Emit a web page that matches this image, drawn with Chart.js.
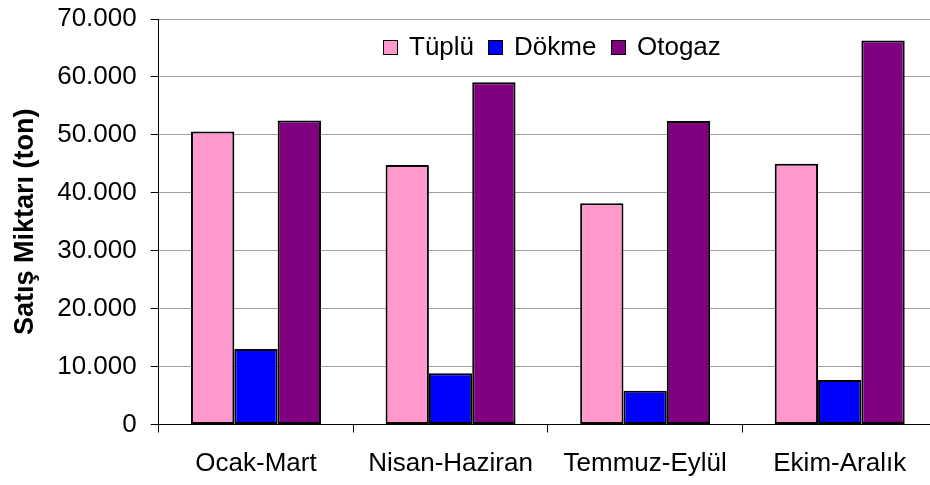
<!DOCTYPE html>
<html>
<head>
<meta charset="utf-8">
<script src="https://cdn.jsdelivr.net/npm/chart.js@4.4.1/dist/chart.umd.min.js"></script>
<style>
  html, body { margin: 0; padding: 0; background: #fff; overflow: hidden; width: 930px; height: 485px; }
  #wrap { position: relative; width: 940px; height: 485px; }
  #c { position: absolute; left: 0; top: 0; }
  .lbox { position: absolute; width: 13px; height: 13px; border: 1.5px solid #000; top: 39.5px; }
  .ltxt { position: absolute; top: 33px; font-family: "Liberation Sans", Arial, sans-serif; font-size: 26px; line-height: 26px; color: #000; white-space: nowrap; }
</style>
</head>
<body>
<div id="wrap">
  <canvas id="c" width="940" height="485"></canvas>
  <div id="legend"></div>
</div>
<script>
const categories = ["Ocak-Mart", "Nisan-Haziran", "Temmuz-Eylül", "Ekim-Aralık"];
const seriesNames = ["Tüplü", "Dökme", "Otogaz"];
const tupluValues = [50600, 44800, 38200, 45000];
const dokmeValues = [13050, 8830, 5830, 7670];
const otogazValues = [52500, 59100, 52400, 66300];
const seriesColors = ["#FF99CC", "#0000FF", "#800080"];
const yMin = 0, yMax = 70000, yStep = 10000;
const yTitle = "Satış Miktarı (ton)";

function fmt(v) {
  return String(Math.round(v)).replace(/\B(?=(\d{3})+(?!\d))/g, ".");
}

const seriesValues = [tupluValues, dokmeValues, otogazValues];
const datasets = seriesNames.map((n, i) => ({
  label: n,
  data: seriesValues[i],
  backgroundColor: seriesColors[i],
  borderColor: "#000",
  borderWidth: 2,
  borderSkipped: false,
  categoryPercentage: 0.668,
  barPercentage: 1.0
}));

// legend (inside plot area, as in the reference)
const legendBoxX = [383, 488, 611];
const legendTextX = [409, 514, 637];
const legend = document.getElementById("legend");
seriesNames.forEach((n, i) => {
  const b = document.createElement("div");
  b.className = "lbox";
  b.style.left = legendBoxX[i] + "px";
  b.style.background = seriesColors[i];
  legend.appendChild(b);
  const t = document.createElement("div");
  t.className = "ltxt";
  t.style.left = legendTextX[i] + "px";
  t.textContent = n;
  legend.appendChild(t);
});

const FONT = "'Liberation Sans', Arial, sans-serif";
new Chart(document.getElementById("c"), {
  type: "bar",
  data: { labels: categories, datasets },
  options: {
    responsive: false,
    animation: false,
    layout: { padding: { left: 0, top: 19, right: 3, bottom: 0 } },
    plugins: { legend: { display: false }, tooltip: { enabled: false } },
    scales: {
      x: {
        offset: true,
        grid: { display: true, drawOnChartArea: false, drawTicks: true, tickLength: 8, color: "#000", offset: true, lineWidth: 1 },
        border: { display: true, color: "#000", width: 1 },
        ticks: { color: "#000", font: { family: FONT, size: 26 }, padding: 16, maxRotation: 0, autoSkip: false },
        afterFit: s => { s.height = 60.5; s.paddingLeft = 0; s.paddingRight = 0; }
      },
      y: {
        min: yMin, max: yMax,
        grid: { color: "#a0a0a0", lineWidth: 1, tickColor: "#000", tickLength: 8, drawTicks: true },
        border: { display: true, color: "#000", width: 1 },
        ticks: { stepSize: yStep, color: "#000", font: { family: FONT, size: 26 }, padding: 14, callback: v => fmt(v) },
        title: { display: true, text: yTitle, color: "#000", font: { family: FONT, size: 27, weight: "bold" }, padding: { top: 9, bottom: 0 } },
        afterFit: s => { s.width = 158.7; s.paddingTop = 0; s.paddingBottom = 0; }
      }
    }
  }
});
</script>
</body>
</html>
